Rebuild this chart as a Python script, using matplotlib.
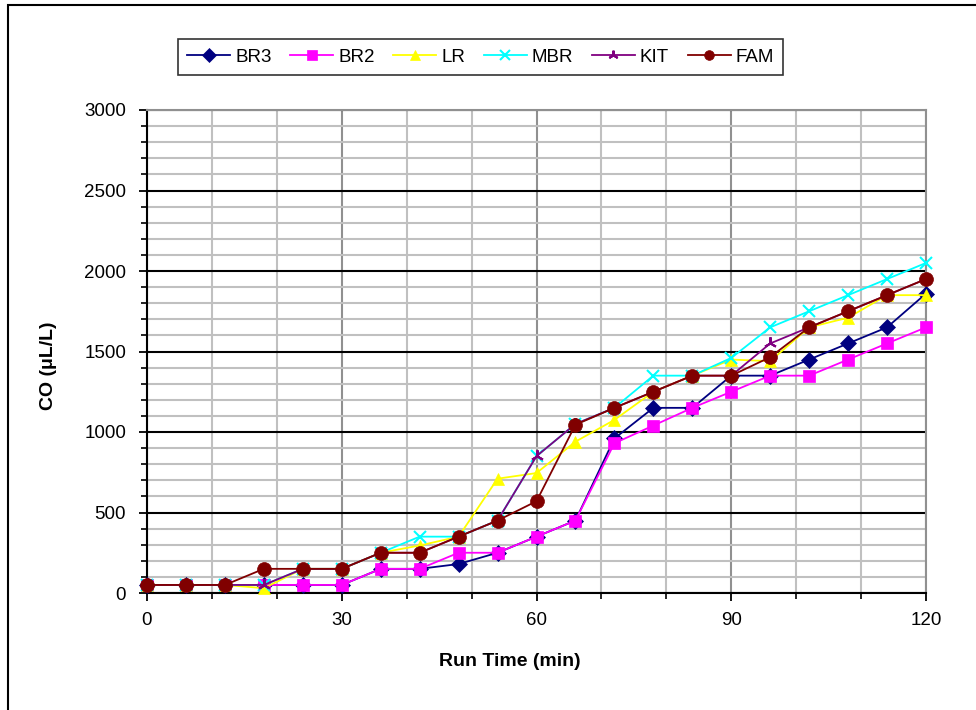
import numpy as np
import matplotlib
matplotlib.use('Agg')
import matplotlib.pyplot as plt
from matplotlib.patches import Rectangle
from matplotlib.ticker import MultipleLocator

plt.rcParams['font.family'] = ['Liberation Sans', 'DejaVu Sans']

# run time (min), one reading every 6 min
time = [0, 6, 12, 18, 24, 30, 36, 42, 48, 54, 60,
        66, 72, 78, 84, 90, 96, 102, 108, 114, 120]

BR3 = [50, 50, 50, 50, 50, 50, 150, 150, 180, 250, 350,
       450, 960, 1150, 1150, 1350, 1350, 1450, 1550, 1650, 1860]
BR2 = [50, 50, 50, 50, 50, 50, 150, 150, 250, 250, 350,
       450, 930, 1040, 1150, 1250, 1350, 1350, 1450, 1550, 1650]
LR = [50, 50, 50, 30, 150, 150, 250, 295, 350, 710, 745,
      940, 1075, 1250, 1350, 1450, 1440, 1650, 1710, 1850, 1850]
MBR = [50, 50, 50, 50, 150, 150, 250, 350, 350, 450, 850,
       1050, 1150, 1350, 1350, 1460, 1650, 1750, 1850, 1950, 2050]
KIT = [50, 50, 50, 50, 150, 150, 250, 250, 350, 450, 850,
       1050, 1150, 1250, 1350, 1350, 1550, 1650, 1750, 1850, 1950]
FAM = [50, 50, 50, 150, 150, 150, 250, 250, 350, 450, 570,
       1045, 1150, 1250, 1350, 1350, 1465, 1650, 1750, 1850, 1950]

series = [
    ('BR3', BR3, '#000080', 'D', 8),
    ('BR2', BR2, '#FF00FF', 's', 9),
    ('LR', LR, '#FFFF00', '^', 9),
    ('MBR', MBR, '#00FFFF', 'x', 9),
    ('KIT', KIT, '#800080', (3, 2, 0), 9),
    ('FAM', FAM, '#800000', 'o', 10),
]

fig = plt.figure(figsize=(9.76, 7.10), dpi=100)
ax = fig.add_axes([147/976, 1-593/710, (926-147)/976, (593-110)/710])

for name, vals, col, mk, ms in series:
    ax.plot(time, vals, color=col, lw=1.3, marker=mk, markersize=ms,
            markerfacecolor=col, markeredgecolor=col,
            markeredgewidth=1.5 if mk in ('x', (3, 2, 0)) else 0.5,
            label=name, clip_on=False, zorder=5)

ax.set_xlim(0, 120)
ax.set_ylim(0, 3000)
ax.xaxis.set_major_locator(MultipleLocator(30))
ax.xaxis.set_minor_locator(MultipleLocator(10))
ax.yaxis.set_major_locator(MultipleLocator(500))
ax.yaxis.set_minor_locator(MultipleLocator(100))

ax.grid(which='minor', axis='both', color='#C0C0C0', lw=1.5)
ax.grid(which='major', axis='y', color='black', lw=1.5)
ax.grid(which='major', axis='x', color='#909090', lw=1.5)
ax.set_axisbelow(True)

for s in ['left', 'bottom']:
    ax.spines[s].set_color('black')
    ax.spines[s].set_linewidth(1.5)
for s in ['top', 'right']:
    ax.spines[s].set_color('#909090')
    ax.spines[s].set_linewidth(1.5)

ax.tick_params(which='major', direction='out', length=6, width=1.3,
               labelsize=13.5, colors='black')
ax.tick_params(which='minor', direction='out', length=4, width=1.2)
ax.tick_params(axis='x', which='major', pad=8)
ax.tick_params(axis='y', which='major', pad=9)

ax.set_xlabel('Run Time (min)', fontsize=14, fontweight='bold')
ax.set_ylabel('CO (\u03bcL/L)', fontsize=14, fontweight='bold')
ax.xaxis.set_label_coords((510-147)/779, (593-653)/483)
ax.yaxis.set_label_coords((57-147)/779, (593-366)/483)

leg = fig.legend(loc='center', bbox_to_anchor=(480.5/976, 1-57/710), ncol=6,
                 fontsize=13.5, frameon=True, fancybox=False, handlelength=2.3,
                 handletextpad=0.25, columnspacing=1.0, borderpad=0.5)
leg.get_frame().set_edgecolor('black')
leg.get_frame().set_linewidth(1.2)
for h in leg.legend_handles:
    h.set_markersize(7)

# outer chart border
fig.patches.append(Rectangle((8/976, -0.1), 1.2, 1.1 - 5/710, transform=fig.transFigure,
                             fill=False, edgecolor='black', lw=1.5))

fig.savefig('out.png', dpi=100)
